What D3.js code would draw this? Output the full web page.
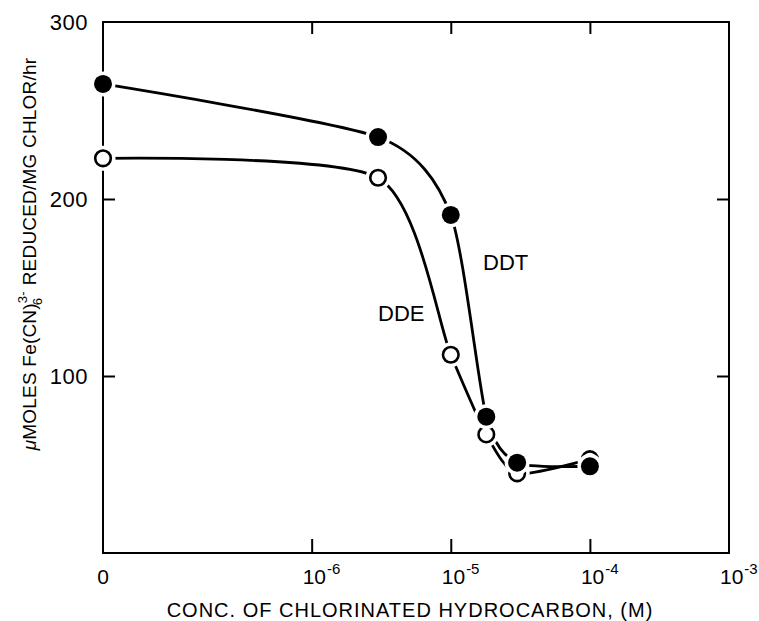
<!DOCTYPE html>
<html>
<head>
<meta charset="utf-8">
<script src="https://cdn.jsdelivr.net/npm/d3@7"></script>
<style>
  html, body { margin: 0; padding: 0; background: #fff; }
  text { font-family: "Liberation Sans", Arial, sans-serif; fill: #000; }
</style>
</head>
<body>
<script>
// ---- data ----
const concentrations = [0, 3e-6, 1e-5, 1.8e-5, 3e-5, 1e-4];
const ddtValues = [265, 235, 191, 77, 51, 49];
const ddeValues = [223, 212, 112, 67, 45, 53];
const xTickValues = [0, 1e-6, 1e-5, 1e-4, 1e-3];
const xTickExponents = ["", "-6", "-5", "-4", "-3"];
const yTickValues = [100, 200, 300];
const seriesLabels = ["DDT", "DDE"];

// ---- layout ----
const W = 759, H = 621;
const fLeft = 103, fRight = 729, fTop = 22, fBottom = 553;

const svg = d3.select("body").append("svg").attr("width", W).attr("height", H);

const x = d3.scaleLog().domain([Math.pow(10, -7.5), 1e-3]).range([fLeft, fRight]);
const xp = v => v === 0 ? x.range()[0] : x(v);
const y = d3.scaleLinear().domain([0, 300]).range([fBottom, fTop]);

// frame
svg.append("rect").attr("x", fLeft).attr("y", fTop)
  .attr("width", fRight - fLeft).attr("height", fBottom - fTop)
  .attr("fill", "none").attr("stroke", "#000").attr("stroke-width", 2);

// ticks (inward)
const innerX = xTickValues.filter(v => v > 0 && v < 1e-3);
const axB = d3.axisBottom(x).tickValues(innerX).tickSize(-14).tickFormat("");
const axT = d3.axisTop(x).tickValues(innerX).tickSize(-12).tickFormat("");
const innerY = yTickValues.filter(v => v < 300);
const axL = d3.axisLeft(y).tickValues(innerY).tickSize(-12).tickFormat("");
const axR = d3.axisRight(y).tickValues(innerY).tickSize(-12).tickFormat("");
[[axB, `translate(0,${fBottom})`], [axT, `translate(0,${fTop})`],
 [axL, `translate(${fLeft},0)`], [axR, `translate(${fRight},0)`]].forEach(([ax, tr]) => {
  const g = svg.append("g").attr("transform", tr).call(ax);
  g.select(".domain").remove();
  g.selectAll("line").attr("stroke", "#000").attr("stroke-width", 2);
});

// x tick labels
xTickValues.forEach((v, i) => {
  const t = svg.append("text").attr("font-size", 21).attr("y", 584);
  if (v === 0) {
    t.attr("x", xp(v)).attr("text-anchor", "middle").text("0");
  } else {
    t.attr("x", xp(v) - 9);
    t.append("tspan").text("10");
    t.append("tspan").attr("font-size", 15).attr("dy", -10).attr("dx", 1).text(xTickExponents[i]);
  }
});

// y tick labels
yTickValues.forEach(v => {
  svg.append("text").attr("x", 88).attr("y", y(v) + 7.5)
    .attr("text-anchor", "end").attr("font-size", 22).attr("letter-spacing", 0.5).text(v);
});

// axis titles
svg.append("text").attr("x", 410).attr("y", 617).attr("text-anchor", "middle")
  .attr("font-size", 20).attr("letter-spacing", 1.0)
  .text("CONC. OF CHLORINATED HYDROCARBON, (M)");

const yt = svg.append("text").attr("transform", "rotate(-90)")
  .attr("x", -254).attr("y", 36).attr("text-anchor", "middle")
  .attr("font-size", 19).attr("letter-spacing", 0.2);
yt.append("tspan").attr("font-style", "italic").text("μ");
yt.append("tspan").text("MOLES Fe(CN)");
yt.append("tspan").attr("font-size", 13).attr("dy", -9).text("3-");
yt.append("tspan").attr("font-size", 13).attr("dx", -14).attr("dy", 15).text("6");
yt.append("tspan").attr("dx", 7).attr("dy", -6).text(" REDUCED/MG CHLOR/hr");

// curves
const line = d3.line()
  .x((d, i) => xp(concentrations[i]))
  .y(d => y(d))
  .curve(d3.curveCardinal.tension(0.3));

[ddtValues, ddeValues].forEach(vals => {
  svg.append("path").attr("d", line(vals))
    .attr("fill", "none").attr("stroke", "#000").attr("stroke-width", 2.8);
});

// markers: DDE (open) first, DDT (filled) on top
const R = 9;
[[ddeValues, "#fff"], [ddtValues, "#000"]].forEach(([vals, fill]) => {
  const g = svg.append("g");
  g.selectAll("circle.halo").data(vals).join("circle").attr("class", "halo")
    .attr("cx", (d, i) => xp(concentrations[i])).attr("cy", d => y(d))
    .attr("r", R + 3.5).attr("fill", "#fff");
  g.selectAll("circle.mk").data(vals).join("circle").attr("class", "mk")
    .attr("cx", (d, i) => xp(concentrations[i])).attr("cy", d => y(d))
    .attr("r", fill === "#fff" ? R - 1.2 : R)
    .attr("fill", fill).attr("stroke", "#000").attr("stroke-width", fill === "#fff" ? 2.6 : 0);
});

// series labels
svg.append("text").attr("x", 483).attr("y", 270).attr("font-size", 22).text(seriesLabels[0]);
svg.append("text").attr("x", 378).attr("y", 321).attr("font-size", 22).text(seriesLabels[1]);
</script>
</body>
</html>
